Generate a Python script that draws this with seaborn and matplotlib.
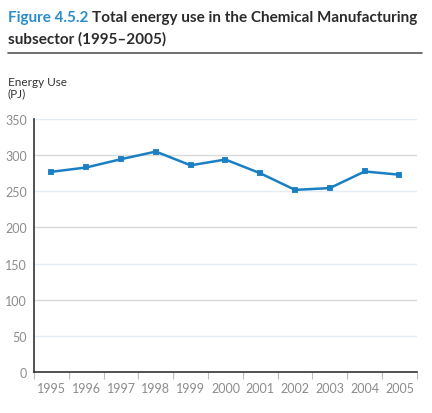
import numpy as np
import pandas as pd
import matplotlib
matplotlib.use('Agg')
import matplotlib.pyplot as plt
import seaborn as sns

years = ['1995', '1996', '1997', '1998', '1999', '2000', '2001', '2002', '2003', '2004', '2005']
energy_use = [277, 283, 294.5, 305, 286, 294, 275, 252, 254.5, 277.5, 273]
y_ticks = [0, 50, 100, 150, 200, 250, 300, 350]

sns.set_style('white')
plt.rcParams['font.family'] = ['Lato', 'DejaVu Sans']

df = pd.DataFrame({'year': years, 'energy': energy_use})

fig = plt.figure(figsize=(4.32, 4.14), dpi=100)
ax = fig.add_axes([0.0787, 0.099, 0.8863, 0.611])

# alternating gridlines
for v in y_ticks[1:]:
    col = '#d9d9d9' if v % 100 == 0 else '#e3ecf7'
    ax.axhline(v, color=col, lw=1, zorder=0)

sns.pointplot(data=df, x='year', y='energy', ax=ax, color='#1b7fc4',
              markers='s', markersize=3.4, linewidth=1.8, errorbar=None)

ax.set_ylim(0, 350)
ax.set_xlim(-0.5, len(years) - 0.5)
ax.set_yticks(y_ticks)
ax.set_xlabel('')
ax.set_ylabel('')

# category boundaries as minor ticks
ax.set_xticks(np.arange(-0.5, len(years)), minor=True)
ax.tick_params(axis='x', which='major', length=0, pad=7, labelsize=9, labelcolor='#8c8c8c')
ax.tick_params(axis='x', which='minor', length=5, width=0.8, color='#bdbdbd', direction='out', bottom=True)
ax.tick_params(axis='y', length=3, width=0.8, color='#333333', pad=2, labelsize=9, labelcolor='#8c8c8c')

for s in ['top', 'right']:
    ax.spines[s].set_visible(False)
for s in ['left', 'bottom']:
    ax.spines[s].set_color('#333333')
    ax.spines[s].set_linewidth(1.2)

# title: blue figure number followed by dark text, fitted to width
title_size = 13
fig.canvas.draw()
r = fig.canvas.get_renderer()
t1 = fig.text(8 / 432, 1 - 22 / 414, 'Figure 4.5.2 ', color='#2a8ccb', fontsize=title_size,
              fontweight='bold', va='baseline')
w1 = t1.get_window_extent(r).width
t2 = fig.text((8 + w1) / 432, 1 - 22 / 414, 'Total energy use in the Chemical Manufacturing',
              color='#2b2b2b', fontsize=title_size, fontweight='bold', va='baseline')
w2 = t2.get_window_extent(r).width
scale = min(1.0, 410 / (w1 + w2))
if scale < 1.0:
    t1.set_fontsize(title_size * scale)
    t2.set_fontsize(title_size * scale)
    t2.set_x((8 + w1 * scale) / 432)
fig.text(8 / 432, 1 - 44 / 414, 'subsector (1995\u20132005)',
         color='#2b2b2b', fontsize=t2.get_fontsize(), fontweight='bold', va='baseline')
fig.add_artist(plt.Line2D([8 / 432, 422 / 432], [1 - 54 / 414, 1 - 54 / 414],
                          color='#555555', lw=1.2))
fig.text(8 / 432, 1 - 77 / 414, 'Energy Use\n(PJ)', color='#333333', fontsize=8.5,
         va='top', linespacing=1.05)

fig.savefig('out.png', dpi=100)
